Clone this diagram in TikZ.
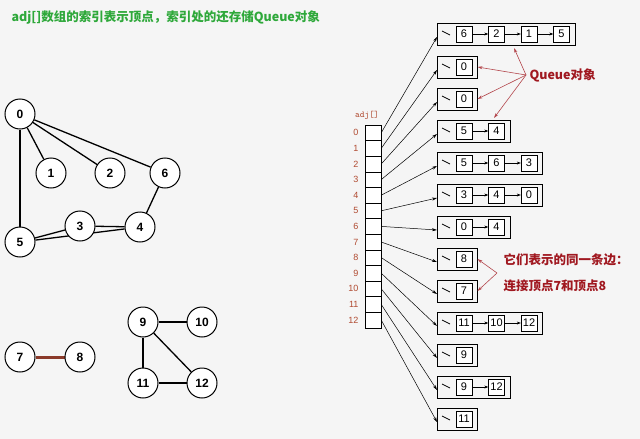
\documentclass[tikz,border=0pt]{standalone}
\usepackage{fontspec}
\setmainfont{Liberation Sans}
\newfontfamily\cjk{Noto Sans CJK SC}
\usetikzlibrary{arrows.meta,calc,backgrounds}
\definecolor{bg}{HTML}{F5F5F5}
\definecolor{ttl}{HTML}{2EA83A}
\definecolor{ann}{HTML}{A01820}
\definecolor{idx}{HTML}{B04A30}
\definecolor{edge78}{HTML}{8B3A2A}
\tikzset{
 vtx/.style={circle,draw,line width=1pt,fill=white,minimum size=30pt,inner sep=0pt,font=\bfseries\fontsize{12}{12}\selectfont},
 gedge/.style={line width=1.3pt},
 cell/.style={draw,fill=white,minimum width=16pt,minimum height=16pt,inner sep=0pt,font=\fontsize{11}{11}\selectfont},
 outer/.style={draw,line width=0.5pt,minimum height=22pt,inner sep=0pt,anchor=west},
 acell/.style={draw,fill=white,minimum width=16pt,minimum height=15.6pt,inner sep=0pt},
 ptr/.style={-{Stealth[length=5pt,width=3pt]},line width=0.5pt},
 qarr/.style={-{Stealth[length=4pt,width=3pt]},line width=0.5pt},
 rarr/.style={-{Stealth[length=5pt,width=3pt]},ann!80,line width=0.6pt},
 lbl/.style={text=idx,font=\fontsize{9}{9}\selectfont,anchor=east},
 redtxt/.style={anchor=west,text=ann,font=\cjk\bfseries\fontsize{12.5}{14}\selectfont}
}
\begin{document}
\begin{tikzpicture}[x=1pt,y=-1pt]
\begin{scope}[on background layer]
\fill[bg] (0,0) rectangle (640,439);
\end{scope}
\useasboundingbox (0,0) rectangle (640,439);
\node[anchor=west,text=ttl,font=\cjk\bfseries\fontsize{12.5}{14}\selectfont] (title) at (8,17) {adj[]数组的索引表示顶点，索引处的还存储Queue对象};
% graph
\node[vtx] (v0) at (20,114) {0};
\node[vtx] (v1) at (51,173) {1};
\node[vtx] (v2) at (110,173) {2};
\node[vtx] (v6) at (165,173) {6};
\node[vtx] (v3) at (80,226) {3};
\node[vtx] (v4) at (140,227) {4};
\node[vtx] (v5) at (20,242) {5};
\node[vtx] (v7) at (20,357) {7};
\node[vtx] (v8) at (80,357) {8};
\node[vtx] (v9) at (143,322) {9};
\node[vtx] (v10) at (202,322) {10};
\node[vtx] (v11) at (143,383) {11};
\node[vtx] (v12) at (202,383) {12};
\begin{scope}[on background layer]
\foreach \a/\b in {0/1,0/2,0/6,0/5,6/4,3/4,3/5,4/5,9/10,9/11,9/12,11/12}
  \draw[gedge] (v\a) -- (v\b);
\draw[edge78,line width=3pt] (v7) -- (v8);
\end{scope}
% array
\node[anchor=south,text=idx,font=\ttfamily\fontsize{9}{9}\selectfont] (adjl) at (367,123) {adj[]};
\foreach \i in {0,...,12}{
  \node[acell] (a\i) at (373,{132.8+15.6*\i}) {};
  \node[lbl] (l\i) at (362,{132.8+15.6*\i}) {\i};
}
% queues
\def\rows{0/34/{6,2,1,5}/4,1/67/{0}/1,2/99/{0}/1,3/131/{5,4}/2,4/163/{5,6,3}/3,5/195/{3,4,0}/3,6/227/{0,4}/2,7/259/{8}/1,8/291/{7}/1,9/323/{11,10,12}/3,10/355/{9}/1,11/387/{9,12}/2,12/419/{11}/1}
\foreach \i/\y/\lst/\n in \rows{
  \node[outer,minimum width={40+32.5*(\n-1)}] (o\i) at (437,\y) {};
  \draw[line width=0.8pt] ($(o\i.west)+(5,-3)$) -- ($(o\i.west)+(13,1)$);
  \foreach \v [count=\k] in \lst{
    \node[cell] (q\i c\k) at ({464+32.5*(\k-1)},\y) {\v};
  }
  \pgfmathtruncatemacro\m{\n-1}
  \ifnum\m>0 \foreach \k in {1,...,\m}{
    \pgfmathtruncatemacro\kk{\k+1}
    \draw[qarr] (q\i c\k.east) -- (q\i c\kk.west);
  }\fi
  \draw[ptr] (a\i.east) -- ($(o\i.west)+(0,3)$);
}
% annotations
\node[redtxt] (qo) at (526,75) {Queue对象};
\coordinate (qs) at (qo.west);
\coordinate (qt0) at (514,48);
\coordinate (qt3) at (494,118);
\draw[rarr] (qs) -- (qt0);
\draw[rarr] (qs) -- (o1.east);
\draw[rarr] (qs) -- (o2.east);
\draw[rarr] (qs) -- (qt3);
\node[redtxt] (e1) at (500,260) {它们表示的同一条边：};
\node[redtxt] (e2) at (500,286) {连接顶点7和顶点8};
\coordinate (es) at (497,273);
\draw[rarr] (es) -- (o7.east);
\draw[rarr] (es) -- (o8.east);
\end{tikzpicture}
\end{document}
